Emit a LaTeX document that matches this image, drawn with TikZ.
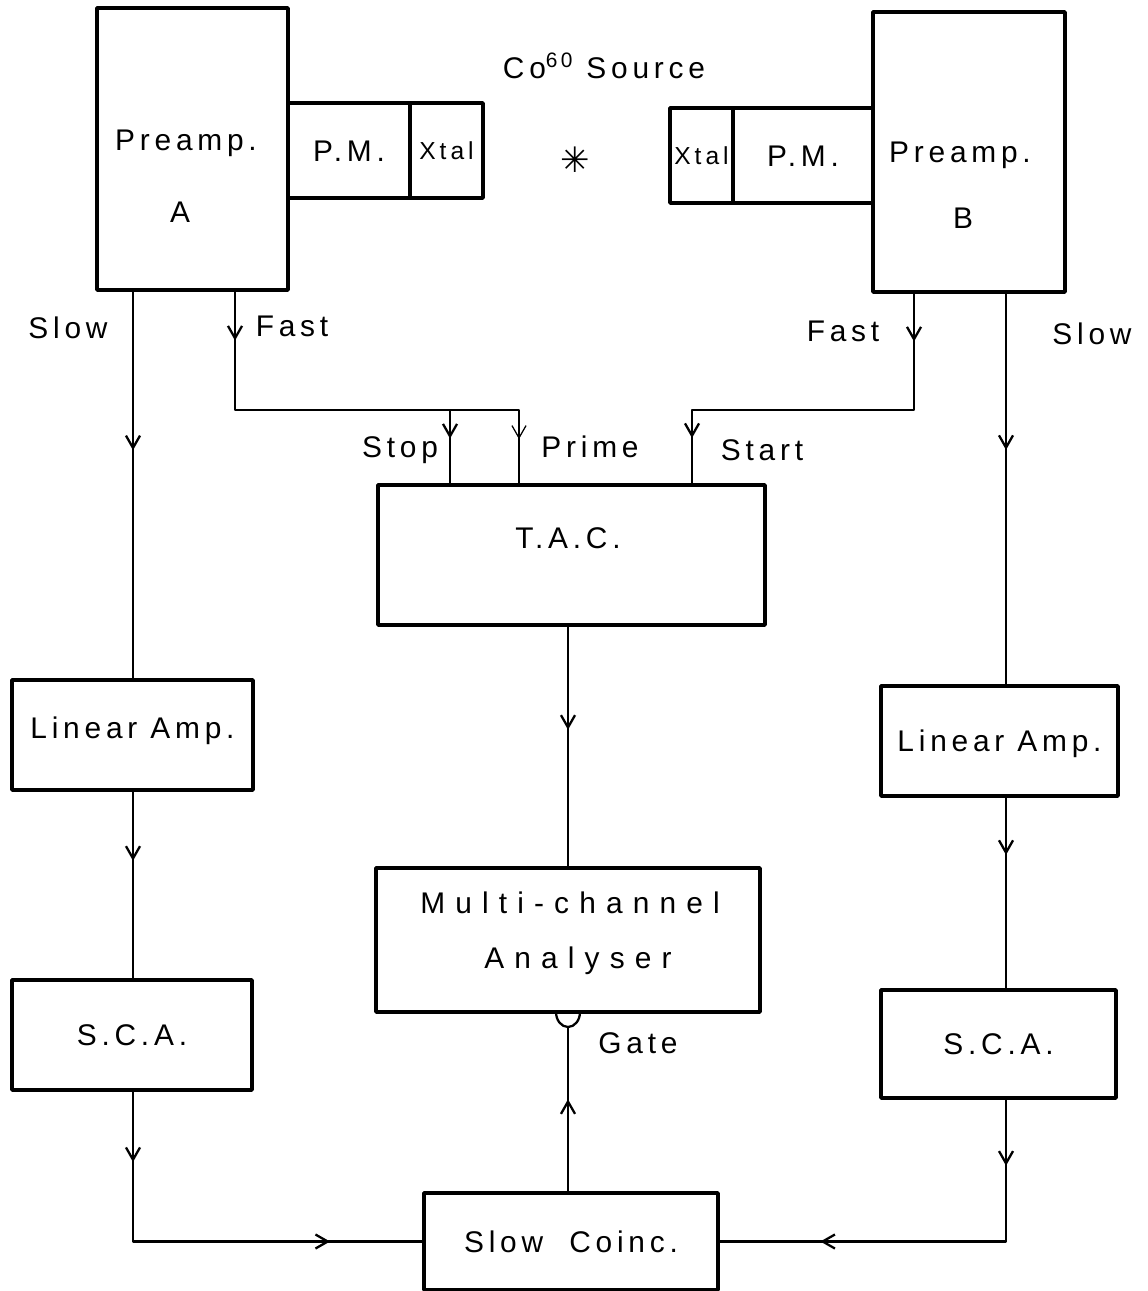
\documentclass[tikz,border=0pt]{standalone}
\usepackage{fontspec}
\setmainfont[LetterSpace=16]{Liberation Sans}
\newfontfamily\symfont{DejaVu Sans}
\usetikzlibrary{arrows.meta,decorations.markings,fit}

\begin{document}
\begin{tikzpicture}[x=0.02cm,y=-0.02cm,line join=round,
  unit/.style={draw,line width=2pt,inner sep=0pt},
  wire/.style={line width=1.3pt},
  thin wire/.style={line width=0.7pt},
  tip/.style={postaction={decorate,decoration={markings,
    mark=at position #1 with {\arrow{Straight Barb[length=7pt,width=8pt]}}}}},
  txt/.style={font=\fontsize{17}{20}\selectfont,text height=12pt,text depth=0pt},
  small txt/.style={font=\fontsize{14}{16}\selectfont,text height=10pt,text depth=0pt}]
  \useasboundingbox (0,0) rectangle (1147,1291);

  % detector heads and source
  \node[unit,fit={(97,8) (288,290)}] (preA) {};
  \node[unit,fit={(288,103) (410,198)},label={[txt,name=pmAT]center:P.M.}] (pmA) {};
  \node[unit,fit={(410,103) (483,198)},label={[small txt,name=xtalAT]center:Xtal}] (xtalA) {};
  \node[unit,fit={(670,108) (733,203)},label={[small txt,name=xtalBT]center:Xtal}] (xtalB) {};
  \node[unit,fit={(733,108) (873,203)},label={[txt,name=pmBT]center:P.M.}] (pmB) {};
  \node[unit,fit={(873,12) (1065,292)}] (preB) {};
  \node[txt] (preAT) at (186,140) {Preamp.};
  \node[txt] (preAL) at (180,212) {A};
  \node[txt] (preBT) at (960,152) {Preamp.};
  \node[txt] (preBL) at (963,218) {B};
  \node[txt] (srcT) at (604,68) {Co\textsuperscript{60} Source};
  \node[font=\symfont\fontsize{20}{22}\selectfont] (src) at (575,160) {✳};

  % electronics
  \node[unit,fit={(378,485) (765,625)}] (tac) {};
  \node[txt] (tacT) at (568,538) {T.A.C.};
  \node[unit,fit={(376,868) (760,1012)}] (mca) {};
  \node[txt,font=\fontsize{17}{20}\selectfont\addfontfeatures{LetterSpace=34}] (mcaT) at (570,903) {Multi-channel};
  \node[txt,font=\fontsize{17}{20}\selectfont\addfontfeatures{LetterSpace=34}] (mcaB) at (578,958) {Analyser};
  \node[unit,fit={(12,680) (253,790)},label={[txt,name=linAT,yshift=4pt]center:Linear Amp.}] (linA) {};
  \node[unit,fit={(881,686) (1118,796)},label={[txt,name=linBT]center:Linear Amp.}] (linB) {};
  \node[unit,fit={(12,980) (252,1090)},label={[txt,name=scaAT]center:S.C.A.}] (scaA) {};
  \node[unit,fit={(881,990) (1116,1098)},label={[txt,name=scaBT]center:S.C.A.}] (scaB) {};
  \node[unit,fit={(424,1193) (718,1290)},label={[txt,name=coincT]center:Slow\ \ Coinc.}] (coinc) {};

  % signal columns
  \coordinate (colSA) at (133,0);
  \coordinate (colFA) at (235,0);
  \coordinate (split) at (450,410);
  \coordinate (colPr) at (519,0);
  \coordinate (turnB) at (692,410);
  \coordinate (colFB) at (914,0);
  \coordinate (colSB) at (1006,0);
  \coordinate (colM) at (568,0);
  \coordinate (gate) at (568,1027);

  \draw[wire,tip=0.41] (preA.south -| colSA) -- (linA.north -| colSA);
  \draw[wire,tip=0.37] (linA.south -| colSA) -- (scaA.north -| colSA);
  \draw[wire,tip=0.16,tip=0.79] (scaA.south -| colSA) |- (coinc.west);
  \draw[wire,tip=0.12,tip=0.89] (preA.south -| colFA) |- (split) -- (tac.north -| split);
  \draw[thin wire,tip=0.69] (split) -| (tac.north -| colPr);
  \draw[wire,tip=0.116,tip=0.89] (preB.south -| colFB) |- (turnB) -- (tac.north -| turnB);
  \draw[wire,tip=0.43] (tac.south -| colM) -- (mca.north -| colM);
  \draw[wire] (gate) ++(-12,-15) arc[start angle=180,end angle=0,x radius=12,y radius=15];
  \draw[wire,tip=0.56] (coinc.north -| gate) -- (gate);
  \draw[wire,tip=0.40] (preB.south -| colSB) -- (linB.north -| colSB);
  \draw[wire,tip=0.30] (linB.south -| colSB) -- (scaB.north -| colSB);
  \draw[wire,tip=0.154,tip=0.765] (scaB.south -| colSB) |- (coinc.east);

  % signal names
  \node[txt] (slowA) at (68,328) {Slow};
  \node[txt] (fastA) at (292,326) {Fast};
  \node[txt] (fastB) at (843,331) {Fast};
  \node[txt] (slowB) at (1092,334) {Slow};
  \node[txt] (stop) at (400,447) {Stop};
  \node[txt] (prime) at (590,447) {Prime};
  \node[txt] (start) at (762,450) {Start};
  \node[txt] (gateT) at (638,1043) {Gate};
\end{tikzpicture}
\end{document}
